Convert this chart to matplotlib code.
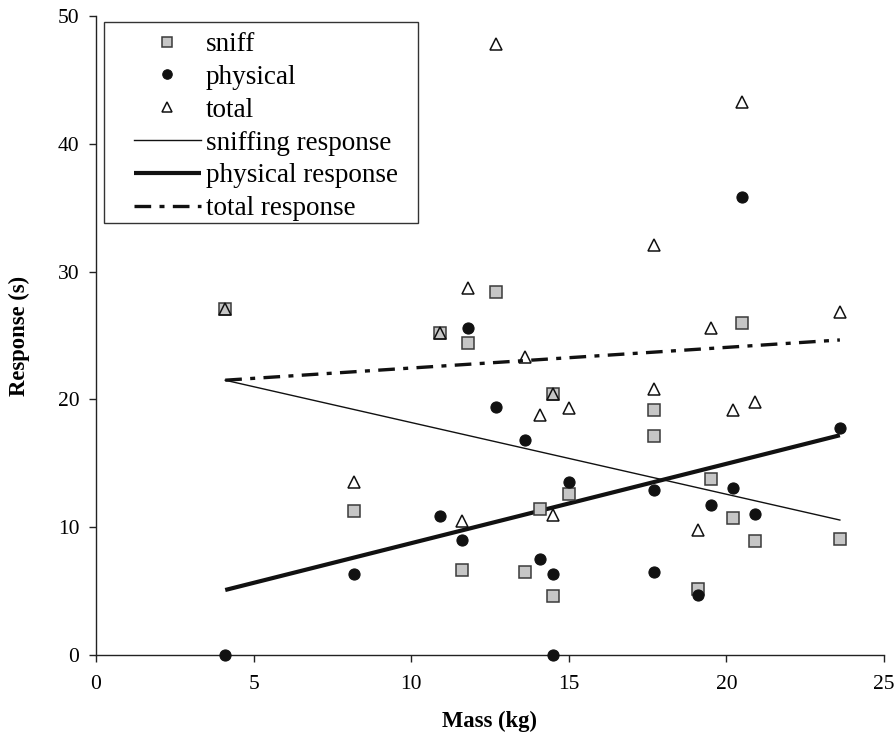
import matplotlib
matplotlib.use("Agg")
import matplotlib.pyplot as plt
from matplotlib.patches import Rectangle
import numpy as np

# ---- data ----
sniff_x = [4.1, 8.2, 10.9, 11.6, 11.8, 12.7, 13.6, 14.1, 14.5, 14.5, 15.0, 17.7, 17.7, 19.1, 19.5, 20.2, 20.5, 20.9, 23.6]
sniff_y = [27.1, 11.3, 25.2, 6.65, 24.4, 28.4, 6.5, 11.4, 20.4, 4.65, 12.6, 19.2, 17.1, 5.2, 13.8, 10.7, 26.0, 8.9, 9.05]

phys_x = [4.1, 8.2, 10.9, 11.6, 11.8, 12.7, 13.6, 14.1, 14.5, 14.5, 15.0, 17.7, 17.7, 19.1, 19.5, 20.2, 20.5, 20.9, 23.6]
phys_y = [0.0, 6.35, 10.9, 9.0, 25.6, 19.4, 16.8, 7.5, 0.0, 6.35, 13.55, 12.9, 6.5, 4.7, 11.7, 13.1, 35.8, 11.05, 17.75]

total_x = [4.1, 8.2, 10.9, 11.6, 11.8, 12.7, 13.6, 14.1, 14.5, 14.5, 15.0, 17.7, 17.7, 19.1, 19.5, 20.2, 20.5, 20.9, 23.6]
total_y = [27.1, 13.55, 25.2, 10.45, 28.7, 47.8, 23.3, 18.8, 20.4, 10.95, 19.3, 32.1, 20.8, 9.8, 25.6, 19.2, 43.3, 19.8, 26.8]

# fitted trend lines (intercept, slope)
line_range = [4.1, 23.6]
sniff_fit = (23.80, -0.561)
phys_fit = (2.54, 0.621)
total_fit = (20.84, 0.1615)

x_ticks = [0, 5, 10, 15, 20, 25]
y_ticks = [0, 10, 20, 30, 40, 50]

plt.rcParams['font.family'] = ['Liberation Serif', 'DejaVu Serif']

W, H = 896, 738
fig = plt.figure(figsize=(W / 100, H / 100), dpi=100)
ax = fig.add_axes([96 / W, 1 - 655 / H, (884 - 96) / W, (655 - 16) / H])

ax.plot(sniff_x, sniff_y, linestyle='none', marker='s', markersize=8.5,
        markerfacecolor='#c6c6c6', markeredgecolor='#3a3a3a', markeredgewidth=1.1,
        label='sniff', zorder=3, clip_on=False)
ax.plot(phys_x, phys_y, linestyle='none', marker='o', markersize=8,
        markerfacecolor='#111111', markeredgecolor='#111111', markeredgewidth=0.8,
        label='physical', zorder=4, clip_on=False)
ax.plot(total_x, total_y, linestyle='none', marker='^', markersize=9,
        markerfacecolor='none', markeredgecolor='#111111', markeredgewidth=1.1,
        label='total', zorder=5, clip_on=False)

xl = np.array(line_range)
ax.plot(xl, sniff_fit[0] + sniff_fit[1] * xl, color='#111111', lw=1.0,
        label='sniffing response', zorder=2)
ax.plot(xl, phys_fit[0] + phys_fit[1] * xl, color='#111111', lw=3.0,
        label='physical response', zorder=2, solid_capstyle='butt')
ax.plot(xl, total_fit[0] + total_fit[1] * xl, color='#111111', lw=2.4,
        linestyle=(0, (5, 2.5, 1.5, 2.5)), label='total response', zorder=2)

ax.set_xlim(0, 25)
ax.set_ylim(0, 50)
ax.set_xticks(x_ticks)
ax.set_yticks(y_ticks)
for s in ['top', 'right']:
    ax.spines[s].set_visible(False)
for s in ['left', 'bottom']:
    ax.spines[s].set_linewidth(1.0)
    ax.spines[s].set_color('#222222')
ax.tick_params(axis='both', direction='out', length=5, width=1.0, labelsize=15.5,
               color='#222222')
ax.tick_params(axis='x', pad=9.5)
ax.tick_params(axis='y', pad=7)
ax.set_xlabel('Mass (kg)', fontsize=16.3, fontweight='bold', labelpad=12)
ax.set_ylabel('Response (s)', fontsize=16.3, fontweight='bold', labelpad=20)

# legend (frame drawn separately to get the wide left margin of the original)
leg = ax.legend(loc='upper left', bbox_to_anchor=(134 / W, 1 - 32 / H),
                bbox_transform=fig.transFigure, fontsize=19.5,
                frameon=False, handlelength=2.46, handletextpad=0.2,
                labelspacing=0.29, borderpad=0.0, borderaxespad=0.0,
                markerscale=0.85)
leg.set_zorder(10)
frame = Rectangle((104 / W, 1 - 223 / H), (418 - 104) / W, (223 - 21.7) / H,
                  transform=fig.transFigure, fill=False,
                  edgecolor='#333333', linewidth=1.0, zorder=9, clip_on=False)
ax.add_artist(frame)

fig.savefig('out.png', dpi=100)
